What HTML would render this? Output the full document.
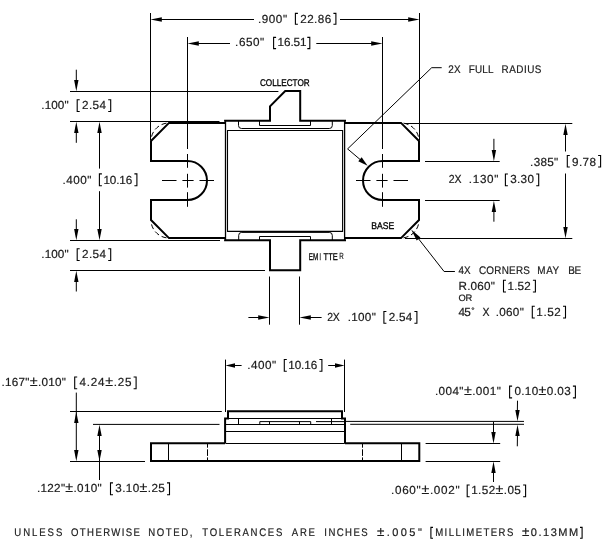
<!DOCTYPE html>
<html><head><meta charset="utf-8"><title>Package outline</title>
<style>
html,body{margin:0;padding:0;background:#fff;}
svg{display:block;filter:grayscale(1);}
svg line,svg path{stroke:#000;fill:none;}
svg .ah{fill:#000;stroke:none;}
svg text.sm{fill:#000;stroke:#000;stroke-width:0.3;text-rendering:geometricPrecision;}
svg path.br{stroke:#000;stroke-width:1.1;fill:none;}
svg text{font-family:"Liberation Sans",sans-serif;fill:#1a1a1a;stroke:#1a1a1a;stroke-width:0.2;white-space:pre;text-rendering:geometricPrecision;}
</style></head><body>
<svg width="606" height="556" viewBox="0 0 606 556">
<rect x="0" y="0" width="606" height="556" fill="#fff" stroke="none"/>
<line x1="150.5" y1="13" x2="150.5" y2="140" stroke-width="1" />
<line x1="419.5" y1="13" x2="419.5" y2="140" stroke-width="1" />
<line x1="187.5" y1="37" x2="187.5" y2="149" stroke-width="1" />
<line x1="382.5" y1="37" x2="382.5" y2="149" stroke-width="1" />
<line x1="187.5" y1="154" x2="187.5" y2="167.8" stroke-width="1" />
<line x1="187.5" y1="173.8" x2="187.5" y2="187.6" stroke-width="1" />
<line x1="187.5" y1="192.2" x2="187.5" y2="206.8" stroke-width="1" />
<line x1="382.5" y1="154" x2="382.5" y2="167.8" stroke-width="1" />
<line x1="382.5" y1="173.8" x2="382.5" y2="187.6" stroke-width="1" />
<line x1="382.5" y1="192.2" x2="382.5" y2="206.8" stroke-width="1" />
<line x1="162" y1="180.5" x2="176.5" y2="180.5" stroke-width="1" />
<line x1="182.4" y1="180.5" x2="193.6" y2="180.5" stroke-width="1" />
<line x1="199.5" y1="180.5" x2="214" y2="180.5" stroke-width="1" />
<line x1="356" y1="180.5" x2="370.5" y2="180.5" stroke-width="1" />
<line x1="376.4" y1="180.5" x2="387.6" y2="180.5" stroke-width="1" />
<line x1="393.5" y1="180.5" x2="408" y2="180.5" stroke-width="1" />
<line x1="155" y1="19.5" x2="254" y2="19.5" stroke-width="1" />
<polygon class="ah" points="150.50,19.50 161.80,17.30 161.80,21.70"/>
<line x1="340" y1="19.5" x2="415" y2="19.5" stroke-width="1" />
<polygon class="ah" points="419.50,19.50 408.20,17.30 408.20,21.70"/>
<line x1="192" y1="43.5" x2="230" y2="43.5" stroke-width="1" />
<polygon class="ah" points="187.50,43.50 198.80,41.30 198.80,45.70"/>
<line x1="316.3" y1="43.5" x2="378" y2="43.5" stroke-width="1" />
<polygon class="ah" points="382.50,43.50 371.20,41.30 371.20,45.70"/>
<line x1="70" y1="91.5" x2="278.4" y2="91.5" stroke-width="1" />
<line x1="70" y1="121.5" x2="219.5" y2="121.5" stroke-width="1" />
<line x1="70" y1="240.5" x2="220" y2="240.5" stroke-width="1" />
<line x1="70" y1="270.5" x2="265" y2="270.5" stroke-width="1" />
<line x1="76.3" y1="69.7" x2="76.3" y2="85" stroke-width="1" />
<polygon class="ah" points="76.30,91.20 74.10,79.90 78.50,79.90"/>
<line x1="76.3" y1="127" x2="76.3" y2="142.8" stroke-width="1" />
<polygon class="ah" points="76.30,121.80 74.10,133.10 78.50,133.10"/>
<line x1="76.3" y1="219.3" x2="76.3" y2="235" stroke-width="1" />
<polygon class="ah" points="76.30,240.20 74.10,228.90 78.50,228.90"/>
<line x1="76.3" y1="276" x2="76.3" y2="291.5" stroke-width="1" />
<polygon class="ah" points="76.30,270.80 74.10,282.10 78.50,282.10"/>
<line x1="99.5" y1="127" x2="99.5" y2="168.6" stroke-width="1" />
<polygon class="ah" points="99.50,121.80 97.30,133.10 101.70,133.10"/>
<line x1="99.5" y1="191.2" x2="99.5" y2="235" stroke-width="1" />
<polygon class="ah" points="99.50,240.20 97.30,228.90 101.70,228.90"/>
<line x1="405" y1="123.5" x2="572.3" y2="123.5" stroke-width="1" />
<line x1="405" y1="238.5" x2="572.3" y2="238.5" stroke-width="1" />
<line x1="425" y1="161.5" x2="499.7" y2="161.5" stroke-width="1" />
<line x1="425" y1="200.5" x2="499.7" y2="200.5" stroke-width="1" />
<line x1="565.5" y1="128" x2="565.5" y2="151.5" stroke-width="1" />
<polygon class="ah" points="565.50,123.80 563.30,135.10 567.70,135.10"/>
<line x1="565.5" y1="173.5" x2="565.5" y2="234" stroke-width="1" />
<polygon class="ah" points="565.50,238.20 563.30,226.90 567.70,226.90"/>
<line x1="493.9" y1="138.8" x2="493.9" y2="155" stroke-width="1" />
<polygon class="ah" points="493.90,161.20 491.70,149.90 496.10,149.90"/>
<line x1="493.9" y1="206" x2="493.9" y2="221.7" stroke-width="1" />
<polygon class="ah" points="493.90,200.80 491.70,212.10 496.10,212.10"/>
<line x1="269.5" y1="276.5" x2="269.5" y2="324.7" stroke-width="1" />
<line x1="299.5" y1="276.5" x2="299.5" y2="324.7" stroke-width="1" />
<line x1="248.4" y1="317.5" x2="264" y2="317.5" stroke-width="1" />
<polygon class="ah" points="269.50,317.50 258.20,315.30 258.20,319.70"/>
<line x1="305" y1="317.5" x2="321.6" y2="317.5" stroke-width="1" />
<polygon class="ah" points="299.50,317.50 310.80,315.30 310.80,319.70"/>
<path d="M441.7 67.7 H431.7 L347.6 148.9 L364 162.8" stroke-width="1" />
<polygon class="ah" points="367.60,165.80 358.28,161.33 361.64,157.36"/>
<path d="M454.9 271.5 H444.1 L414 233" stroke-width="1" />
<polygon class="ah" points="411.20,229.60 420.47,237.59 416.69,240.54"/>
<path d="M225.4 122.9 H169 L151 141 V161 H187.5 A19.5 19.5 0 0 1 187.5 200 H151 V220 L169 238.1 H225.4" stroke-width="2" stroke-linejoin="miter"/>
<path d="M344.6 122.9 H401 L419 141 V161 H382.5 A19.5 19.5 0 0 0 382.5 200 H419 V220 L401 238.1 H344.6" stroke-width="2" stroke-linejoin="miter"/>
<path d="M151 141 A18 18 0 0 1 169 123" stroke-width="1" stroke-dasharray="0 4.5 5 3 5 3 5 3"/>
<path d="M151 220 A18 18 0 0 0 169 238" stroke-width="1" stroke-dasharray="0 4.5 5 3 5 3 5 3"/>
<path d="M419 141 A18 18 0 0 0 401 123" stroke-width="1" stroke-dasharray="0 4.5 5 3 5 3 5 3"/>
<path d="M419 220 A18 18 0 0 1 401 238" stroke-width="1" stroke-dasharray="0 4.5 5 3 5 3 5 3"/>
<path d="M224.1 120.8 H270 V106.4 L285.2 91 H300.2 V120.8 H346" stroke-width="2" />
<path d="M224.1 240.2 H270 V270.2 H300.2 V240.2 H346" stroke-width="2" />
<line x1="225.5" y1="121" x2="225.5" y2="240" stroke-width="1.3" />
<line x1="344.6" y1="121" x2="344.6" y2="240" stroke-width="1.3" />
<path d="M227.5 130.5 H342.6 V231.4 H227.5 Z" stroke-width="1.1" />
<path d="M238.5 121 V125.5 Q238.5 128.5 241.5 128.5 H329.3 Q332.3 128.5 332.3 125.5 V121" stroke-width="1" />
<path d="M238.7 240 V235.4 Q238.7 232.4 241.7 232.4 H329.3 Q332.3 232.4 332.3 235.4 V240" stroke-width="1" />
<path d="M259.5 121 V125.5 H310.5 V121" stroke-width="1" />
<path d="M259.5 240 V236.5 H310.5 V240" stroke-width="1" />
<line x1="225.5" y1="359.6" x2="225.5" y2="412" stroke-width="1" />
<line x1="344.5" y1="359.6" x2="344.5" y2="412" stroke-width="1" />
<line x1="230" y1="365.5" x2="241.6" y2="365.5" stroke-width="1" />
<polygon class="ah" points="225.50,365.50 235.00,363.30 235.00,367.70"/>
<line x1="328.2" y1="365.5" x2="340" y2="365.5" stroke-width="1" />
<polygon class="ah" points="344.50,365.50 335.00,363.30 335.00,367.70"/>
<line x1="70" y1="411.5" x2="221.8" y2="411.5" stroke-width="1" />
<line x1="93" y1="424.4" x2="219.5" y2="424.4" stroke-width="1" />
<line x1="70" y1="461.5" x2="145" y2="461.5" stroke-width="1" />
<line x1="76.3" y1="392.6" x2="76.3" y2="456" stroke-width="1" />
<polygon class="ah" points="76.30,411.70 74.10,423.00 78.50,423.00"/>
<polygon class="ah" points="76.30,461.20 74.10,449.90 78.50,449.90"/>
<line x1="99.5" y1="430" x2="99.5" y2="480" stroke-width="1" />
<polygon class="ah" points="99.50,424.70 97.30,436.00 101.70,436.00"/>
<polygon class="ah" points="99.50,461.20 97.30,449.90 101.70,449.90"/>
<line x1="345.5" y1="421.4" x2="524" y2="421.4" stroke-width="1" />
<line x1="350.2" y1="424.3" x2="524" y2="424.3" stroke-width="1" />
<line x1="425.6" y1="443.5" x2="500.2" y2="443.5" stroke-width="1" />
<line x1="425.6" y1="461.5" x2="500.2" y2="461.5" stroke-width="1" />
<line x1="517.5" y1="400.7" x2="517.3" y2="415" stroke-width="1" />
<polygon class="ah" points="517.50,421.30 515.30,410.00 519.70,410.00"/>
<line x1="517.5" y1="430" x2="517.3" y2="446.3" stroke-width="1" />
<polygon class="ah" points="517.50,424.80 515.30,436.10 519.70,436.10"/>
<line x1="493.5" y1="421.9" x2="493.5" y2="438" stroke-width="1" />
<polygon class="ah" points="493.50,443.40 491.30,432.10 495.70,432.10"/>
<line x1="493.5" y1="467" x2="493.5" y2="482" stroke-width="1" />
<polygon class="ah" points="493.50,461.60 491.30,472.90 495.70,472.90"/>
<path d="M225.1 443.3 H151 V461.1 H419.3 V443.3 H345" stroke-width="2" />
<line x1="225.5" y1="443.5" x2="344.8" y2="443.5" stroke-width="1" />
<line x1="168.5" y1="443.5" x2="168.5" y2="461" stroke-width="1" />
<line x1="401.5" y1="443.5" x2="401.5" y2="461" stroke-width="1" />
<line x1="207.5" y1="443.5" x2="207.5" y2="461" stroke-width="1" stroke-dasharray="4.2 1.6 6.6 1.5 3.5 0"/>
<line x1="362.5" y1="443.5" x2="362.5" y2="461" stroke-width="1" stroke-dasharray="4.2 1.6 6.6 1.5 3.5 0"/>
<path d="M225.1 443.3 V418.4 H228 V411.3 H342 V418.4 H345 V443.3" stroke-width="2" />
<line x1="225.5" y1="418.5" x2="345" y2="418.5" stroke-width="1" />
<line x1="225.5" y1="424.5" x2="345" y2="424.5" stroke-width="1" />
<line x1="225.5" y1="431.5" x2="345" y2="431.5" stroke-width="1" />
<line x1="238.5" y1="418.5" x2="238.5" y2="424.5" stroke-width="1" />
<line x1="331.5" y1="418.5" x2="331.5" y2="424.5" stroke-width="1" />
<path d="M259.8 424.5 V421.6 H310.7 V424.5 M269.5 421.6 V424.5 M299.5 421.6 V424.5" stroke-width="1" />
<line x1="316" y1="421.6" x2="345" y2="421.6" stroke-width="1" />
<text transform="translate(257.90 22.60) scale(1.0 1)" font-size="11.7" textLength="29.20" lengthAdjust="spacing">.900"</text>
<path class="br" d="M297.9 13.4 H295.4 V24.3 H297.9 M333.4 13.4 H335.9 V24.3 H333.4"/>
<text transform="translate(300.20 22.60) scale(1.0 1)" font-size="11.7" textLength="31.00" lengthAdjust="spacing">22.86</text>
<text transform="translate(235.10 46.30) scale(1.0 1)" font-size="11.7" textLength="29.10" lengthAdjust="spacing">.650"</text>
<path class="br" d="M276.1 37.4 H273.6 V48.6 H276.1 M307.3 37.4 H309.8 V48.6 H307.3"/>
<text transform="translate(277.60 46.30) scale(1.0 1)" font-size="11.7" textLength="28.90" lengthAdjust="spacing">16.51</text>
<text transform="translate(41.30 109.00) scale(1.0 1)" font-size="11.7" textLength="27.30" lengthAdjust="spacing">.100"</text>
<path class="br" d="M79.7 99.7 H77.2 V111.5 H79.7 M108.2 99.7 H110.7 V111.5 H108.2"/>
<text transform="translate(82.00 109.00) scale(1.0 1)" font-size="11.7" textLength="24.00" lengthAdjust="spacing">2.54</text>
<text transform="translate(62.60 183.60) scale(1.0 1)" font-size="11.7" textLength="28.80" lengthAdjust="spacing">.400"</text>
<path class="br" d="M101.9 173.9 H99.4 V185.8 H101.9 M134.4 173.9 H136.9 V185.8 H134.4"/>
<text transform="translate(103.40 183.60) scale(1.0 1)" font-size="11.7" textLength="28.80" lengthAdjust="spacing">10.16</text>
<text transform="translate(41.30 258.00) scale(1.0 1)" font-size="11.7" textLength="27.30" lengthAdjust="spacing">.100"</text>
<path class="br" d="M79.7 248.7 H77.2 V260.5 H79.7 M108.2 248.7 H110.7 V260.5 H108.2"/>
<text transform="translate(82.00 258.00) scale(1.0 1)" font-size="11.7" textLength="24.00" lengthAdjust="spacing">2.54</text>
<text class="sm" transform="translate(259.90 86.00) scale(0.8424 1)" font-size="9.7">COLLECTOR</text>
<text class="sm" transform="translate(308.80 260.00) scale(0.6529 1)" font-size="9.7">EM</text>
<text class="sm" transform="translate(319.60 260.00) scale(0.5195 1)" font-size="9.7">I</text>
<text class="sm" transform="translate(323.60 260.00) scale(0.7696 1)" font-size="9.7">TTE</text>
<text transform="translate(339.3 259.3) scale(0.68 1)" font-size="9.1" fill="#555" style="text-rendering:geometricPrecision">R</text>
<text class="sm" transform="translate(371.30 228.90) scale(0.8926 1)" font-size="9.7">BASE</text>
<text transform="translate(448.20 72.80) scale(0.9 1)" font-size="11" textLength="13.67" lengthAdjust="spacing">2X</text>
<text transform="translate(468.80 72.80) scale(0.9 1)" font-size="11" textLength="27.33" lengthAdjust="spacing">FULL</text>
<text transform="translate(501.60 72.80) scale(0.9 1)" font-size="11" textLength="44.22" lengthAdjust="spacing">RADIUS</text>
<text transform="translate(530.10 165.50) scale(1.0 1)" font-size="11.7" textLength="28.10" lengthAdjust="spacing">.385"</text>
<path class="br" d="M569.8 155.5 H567.3 V167.0 H569.8 M598.1 155.5 H600.6 V167.0 H598.1"/>
<text transform="translate(572.10 165.50) scale(1.0 1)" font-size="11.7" textLength="23.80" lengthAdjust="spacing">9.78</text>
<text transform="translate(448.80 183.30) scale(0.9 1)" font-size="11.7" textLength="14.00" lengthAdjust="spacing">2X</text>
<text transform="translate(468.80 183.30) scale(1.0 1)" font-size="11.7" textLength="29.60" lengthAdjust="spacing">.130"</text>
<path class="br" d="M507.9 174.0 H505.4 V185.8 H507.9 M536.2 174.0 H538.7 V185.8 H536.2"/>
<text transform="translate(510.20 183.30) scale(1.0 1)" font-size="11.7" textLength="23.80" lengthAdjust="spacing">3.30</text>
<text transform="translate(327.30 320.80) scale(0.9 1)" font-size="11.7" textLength="13.89" lengthAdjust="spacing">2X</text>
<text transform="translate(347.70 320.80) scale(1.0 1)" font-size="11.7" textLength="28.10" lengthAdjust="spacing">.100"</text>
<path class="br" d="M386.4 311.5 H383.9 V323.3 H386.4 M414.4 311.5 H416.9 V323.3 H414.4"/>
<text transform="translate(388.70 320.80) scale(1.0 1)" font-size="11.7" textLength="23.50" lengthAdjust="spacing">2.54</text>
<text transform="translate(458.60 274.40) scale(0.9 1)" font-size="11" textLength="13.44" lengthAdjust="spacing">4X</text>
<text transform="translate(478.90 274.40) scale(0.9 1)" font-size="11" textLength="56.67" lengthAdjust="spacing">CORNERS</text>
<text transform="translate(537.30 274.40) scale(0.9 1)" font-size="11" textLength="24.33" lengthAdjust="spacing">MAY</text>
<text transform="translate(568.20 274.40) scale(0.9 1)" font-size="11" textLength="14.33" lengthAdjust="spacing">BE</text>
<text transform="translate(458.60 289.50) scale(1.0 1)" font-size="11.7" textLength="36.20" lengthAdjust="spacing">R.060"</text>
<path class="br" d="M506.0 280.2 H503.5 V292.0 H506.0 M532.9 280.2 H535.4 V292.0 H532.9"/>
<text transform="translate(507.50 289.50) scale(1.0 1)" font-size="11.7" textLength="23.20" lengthAdjust="spacing">1.52</text>
<text transform="translate(458.60 301.40) scale(1.0 1)" font-size="9.3" textLength="13.70" lengthAdjust="spacing">OR</text>
<text transform="translate(458.60 315.50) scale(1.0 1)" font-size="11.7" textLength="12.10" lengthAdjust="spacing">45</text>
<circle cx="472.9" cy="308.6" r="0.9" fill="none" stroke="#222" stroke-width="0.9"/>
<text transform="translate(482.50 315.50) scale(0.9 1)" font-size="11.7" textLength="7.00" lengthAdjust="spacing">X</text>
<text transform="translate(495.80 315.50) scale(1.0 1)" font-size="11.7" textLength="28.00" lengthAdjust="spacing">.060"</text>
<path class="br" d="M534.8 306.2 H532.3 V318.0 H534.8 M563.0 306.2 H565.5 V318.0 H563.0"/>
<text transform="translate(536.30 315.50) scale(1.0 1)" font-size="11.7" textLength="24.50" lengthAdjust="spacing">1.52</text>
<text transform="translate(247.20 368.80) scale(1.0 1)" font-size="11.7" textLength="28.90" lengthAdjust="spacing">.400"</text>
<path class="br" d="M286.8 359.5 H284.3 V371.3 H286.8 M319.4 359.5 H321.9 V371.3 H319.4"/>
<text transform="translate(288.30 368.80) scale(1.0 1)" font-size="11.7" textLength="28.90" lengthAdjust="spacing">10.16</text>
<text transform="translate(1.50 386.30) scale(1.0 1)" font-size="11.7" textLength="64.40" lengthAdjust="spacing">.167"<tspan font-size="1.22em">±</tspan>.010"</text>
<path class="br" d="M77.2 377.0 H74.7 V388.8 H77.2 M133.6 377.0 H136.1 V388.8 H133.6"/>
<text transform="translate(79.50 386.30) scale(1.0 1)" font-size="11.7" textLength="51.90" lengthAdjust="spacing">4.24<tspan font-size="1.22em">±</tspan>.25</text>
<text transform="translate(36.90 492.20) scale(1.0 1)" font-size="11.7" textLength="64.80" lengthAdjust="spacing">.122"<tspan font-size="1.22em">±</tspan>.010"</text>
<path class="br" d="M113.0 482.9 H110.5 V494.7 H113.0 M167.0 482.9 H169.5 V494.7 H167.0"/>
<text transform="translate(115.30 492.20) scale(1.0 1)" font-size="11.7" textLength="49.50" lengthAdjust="spacing">3.10<tspan font-size="1.22em">±</tspan>.25</text>
<text transform="translate(434.90 395.40) scale(1.0 1)" font-size="11.7" textLength="65.90" lengthAdjust="spacing">.004"<tspan font-size="1.22em">±</tspan>.001"</text>
<path class="br" d="M512.1 386.1 H509.6 V397.9 H512.1 M572.9 386.1 H575.4 V397.9 H572.9"/>
<text transform="translate(514.40 395.40) scale(1.0 1)" font-size="11.7" textLength="56.30" lengthAdjust="spacing">0.10<tspan font-size="1.22em">±</tspan>0.03</text>
<text transform="translate(391.00 494.30) scale(1.0 1)" font-size="11.7" textLength="68.60" lengthAdjust="spacing">.060"<tspan font-size="1.22em">±</tspan>.002"</text>
<path class="br" d="M469.7 485.0 H467.2 V496.8 H469.7 M523.1 485.0 H525.6 V496.8 H523.1"/>
<text transform="translate(471.20 494.30) scale(1.0 1)" font-size="11.7" textLength="49.70" lengthAdjust="spacing">1.52<tspan font-size="1.22em">±</tspan>.05</text>
<text transform="translate(14.30 536.00) scale(0.87 1)" font-size="11.0" textLength="55.17" lengthAdjust="spacing">UNLESS</text>
<text transform="translate(71.00 536.00) scale(0.87 1)" font-size="11.0" textLength="79.31" lengthAdjust="spacing">OTHERWISE</text>
<text transform="translate(148.30 536.00) scale(0.87 1)" font-size="11.0" textLength="50.57" lengthAdjust="spacing">NOTED,</text>
<text transform="translate(202.30 536.00) scale(0.87 1)" font-size="11.0" textLength="91.95" lengthAdjust="spacing">TOLERANCES</text>
<text transform="translate(291.70 536.00) scale(0.87 1)" font-size="11.0" textLength="26.78" lengthAdjust="spacing">ARE</text>
<text transform="translate(324.30 536.00) scale(0.87 1)" font-size="11.0" textLength="49.89" lengthAdjust="spacing">INCHES</text>
<text transform="translate(377.00 536.00) scale(1.0 1)" font-size="11.0" textLength="44.80" lengthAdjust="spacing"><tspan font-size="1.22em">±</tspan>.005"</text>
<path class="br" d="M433.0 527.4 H430.9 V538.2 H433.0 M580.0 527.4 H582.1 V538.2 H580.0"/>
<text transform="translate(435.20 536.00) scale(0.87 1)" font-size="11.0" textLength="89.77" lengthAdjust="spacing">MILLIMETERS</text>
<text transform="translate(521.90 536.00) scale(1.0 1)" font-size="11.0" textLength="56.30" lengthAdjust="spacing"><tspan font-size="1.22em">±</tspan>0.13MM</text>
</svg>
</body></html>
